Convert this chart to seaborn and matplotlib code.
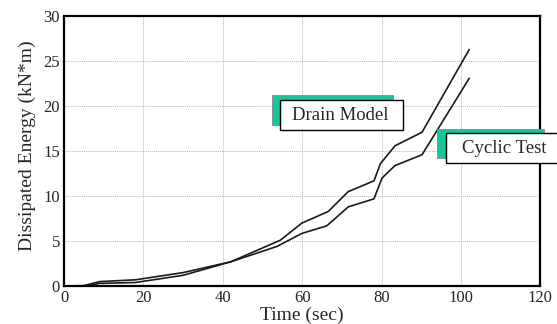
import matplotlib
matplotlib.use("Agg")
import matplotlib.pyplot as plt
import seaborn as sns
import pandas as pd
from matplotlib.patches import Rectangle

# values (time in sec, energy in kN*m)
time_upper = [0, 5, 9, 18, 30, 42, 54.5, 59.9, 66.6, 71.6, 78.1, 79.7, 83.4, 90.2, 102.1]
energy_upper = [0, 0.05, 0.5, 0.7, 1.5, 2.7, 5.1, 7.0, 8.3, 10.5, 11.7, 13.6, 15.6, 17.1, 26.3]

time_lower = [0, 5, 9, 18, 30, 42, 53.6, 59.9, 66.2, 71.6, 78.1, 80.1, 83.4, 90.2, 102.1]
energy_lower = [0, 0.0, 0.3, 0.4, 1.2, 2.7, 4.4, 5.85, 6.7, 8.8, 9.7, 12.0, 13.4, 14.6, 23.1]

labels = ["Drain Model", "Cyclic Test"]

df = pd.concat([
    pd.DataFrame({"Time": time_upper, "Energy": energy_upper, "series": labels[0]}),
    pd.DataFrame({"Time": time_lower, "Energy": energy_lower, "series": labels[1]}),
])

sns.set_style("white")
plt.rcParams["font.family"] = ["Liberation Serif", "DejaVu Serif"]

fig, ax = plt.subplots(figsize=(5.57, 3.24), dpi=100)
sns.lineplot(data=df, x="Time", y="Energy", units="series", estimator=None,
             color="#1a1a1a", linewidth=1.2, legend=False, ax=ax, sort=False)

ax.set_xlim(0, 120)
ax.set_ylim(0, 30)
ax.set_xticks(range(0, 121, 20))
ax.set_yticks(range(0, 31, 5))
ax.grid(True, color="#b8b8b8", linestyle=(0, (1, 1)), linewidth=0.7)
ax.tick_params(length=0, labelsize=12, pad=3)
for s in ax.spines.values():
    s.set_color("black")
    s.set_linewidth(1.6)
ax.set_xlabel("Time (sec)", fontsize=14, labelpad=0)
ax.set_ylabel("Dissipated Energy (kN*m)", fontsize=14)
ax.yaxis.set_label_coords(-0.058, 0.52)

# label boxes with teal shadow (data coords)
teal = "#13c79a"
boxes = [
    # shadow x, y, w, h ; box x, y, w, h ; text
    ((52.4, 17.9, 30.6, 3.35), (54.5, 17.3, 31.0, 3.35), labels[0]),
    ((94.0, 14.2, 27.0, 3.3), (96.3, 13.65, 30.0, 3.35), labels[1]),
]
for sh, bx, txt in boxes:
    ax.add_patch(Rectangle(sh[:2], sh[2], sh[3], facecolor=teal, edgecolor="#888888",
                           linewidth=0.6, clip_on=False, zorder=5))
    ax.add_patch(Rectangle(bx[:2], bx[2], bx[3], facecolor="white", edgecolor="black",
                           linewidth=1.0, clip_on=False, zorder=6))
    ax.text(bx[0] + bx[2] / 2 - 0.5, bx[1] + bx[3] / 2, txt, ha="center", va="center",
            fontsize=13.5, zorder=7, clip_on=False)

fig.subplots_adjust(left=0.115, right=0.97, top=0.95, bottom=0.117)
fig.savefig("out.png", dpi=100)
